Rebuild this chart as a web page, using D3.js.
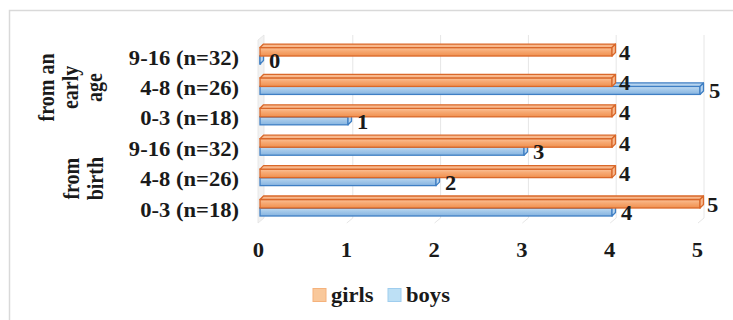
<!DOCTYPE html>
<html><head><meta charset="utf-8">
<script src="https://cdn.jsdelivr.net/npm/d3@7"></script>
<style>
html,body{margin:0;padding:0;background:#fff;}
svg{display:block;}
text{font-family:"Liberation Serif","Times New Roman",serif;font-weight:bold;fill:#1a1a1a;}
</style></head>
<body>
<svg id="c" width="733" height="320"></svg>
<script>
const categories = ["9-16 (n=32)","4-8 (n=26)","0-3 (n=18)","9-16 (n=32)","4-8 (n=26)","0-3 (n=18)"];
const groups = [["from an","early","age"],["from","birth"]];
const girls = [4,4,4,4,4,5];
const boys  = [0,5,1,3,2,4];
const seriesNames = ["girls","boys"];
const ticks = [0,1,2,3,4,5];

const FS = 20, SX = 1.13;
const svg = d3.select("#c");
const defs = svg.append("defs");
function grad(id, stops){
  const g = defs.append("linearGradient").attr("id",id).attr("x1",0).attr("y1",0).attr("x2",0).attr("y2",1);
  stops.forEach(s=>g.append("stop").attr("offset",s[0]).attr("stop-color",s[1]));
}
grad("gOr",[[0,"#fbc39b"],[0.4,"#f7aa74"],[1,"#f0904f"]]);
grad("gBl",[[0,"#c3dcf2"],[0.4,"#a5c9ea"],[1,"#86b4e0"]]);

// frame
svg.append("rect").attr("x",9.5).attr("y",10.5).attr("width",740).attr("height",330)
  .attr("fill","none").attr("stroke","#d9d9d9").attr("stroke-width",1.5);

const x = d3.scaleLinear().domain([0,5]).range([260,700]);
const xa = d3.scaleLinear().domain([0,5]).range([258,697]);
const y = d3.scaleBand().domain(d3.range(categories.length)).range([33.7,226.4]).paddingInner(0.34).paddingOuter(0.34);
const DX=6, DY=5, gTop=35, gBot=218;

function stext(g, tx, ty, txt, anchor, extra){
  return g.append("text").attr("transform",`translate(${tx},${ty}) scale(${SX},1)` + (extra||""))
    .attr("text-anchor",anchor||"start").attr("font-size",FS).text(txt);
}

// left wall
svg.append("polygon").attr("points",[[258,223],[258,40],[264,gTop],[264,gBot]].join(" "))
  .attr("fill","#f2f2f2").attr("stroke","#e3e3e3").attr("stroke-width",0.8);
// gridlines (back wall) with floor diagonal
const grid = svg.append("g");
ticks.slice(1).forEach(t=>{
  const xf = xa(t);
  grid.append("path").attr("d",`M${xf+DX+1},${gTop}L${xf+DX+1},${gBot}L${xf+1},${gBot+DY}`)
    .attr("fill","none").attr("stroke","#e6e6e6").attr("stroke-width",1);
});

// axis tick labels
const ax = svg.append("g").attr("transform","translate(0,257)")
  .call(d3.axisBottom(xa).tickValues(ticks).tickFormat(d3.format("d")).tickSize(0).tickPadding(0));
ax.select(".domain").remove();
ax.selectAll("text").attr("font-size",FS).attr("font-family","Liberation Serif").attr("font-weight","bold")
  .attr("fill","#1a1a1a").attr("dy",0).attr("y",0).attr("transform",`scale(${SX},1)`);

// bars
function bar(g, v, yt, h, fill, stroke, cap){
  const x0 = x(0), x1 = x(v), d = 3.5;
  g.append("rect").attr("x",x0).attr("y",yt+d).attr("width",Math.max(x1-x0,0.5)).attr("height",h-d)
    .attr("fill",fill).attr("stroke",stroke).attr("stroke-width",1.3);
  g.append("polygon").attr("points",[[x0,yt+d],[x0+d,yt],[x1+d,yt],[x1,yt+d]].join(" "))
    .attr("fill",cap).attr("stroke",stroke).attr("stroke-width",1.3).attr("stroke-linejoin","round");
  g.append("polygon").attr("points",[[x1,yt+d],[x1+d,yt],[x1+d,yt+h-d],[x1,yt+h]].join(" "))
    .attr("fill",cap).attr("stroke",stroke).attr("stroke-width",1.3).attr("stroke-linejoin","round");
}
const bars = svg.append("g");
categories.forEach((c,i)=>{
  const yb = y(i);
  bar(bars, boys[i], yb+8.5, 11.5, "url(#gBl)", "#3f7fc4", "#b7d4ef");
  bar(bars, girls[i], yb, 12, "url(#gOr)", "#d9682a", "#f8b88c");
});
// data labels
const lab = svg.append("g");
categories.forEach((c,i)=>{
  const yb = y(i);
  stext(lab, x(girls[i])+7, yb+15.5, girls[i]);
  stext(lab, x(boys[i])+9, yb+24, boys[i]);
});

// category labels
const cl = svg.append("g");
categories.forEach((c,i)=>{
  stext(cl, 239, y(i)+y.bandwidth()/2+10.5, c, "end");
});

// group labels (rotated)
const gl = svg.append("g");
const gCenters = [(y(0)+y(2)+y.bandwidth())/2, (y(3)+y(5)+y.bandwidth())/2];
const lineX = [[54,78,102],[79,103]];
groups.forEach((lines,gi)=>{
  lines.forEach((t,li)=>{
    stext(gl, lineX[gi][li], gCenters[gi]+3, t, "middle", " rotate(-90)");
  });
});

// legend
const lg = svg.append("g");
const legX = [313,388];
const legFill = ["#f9c89b","#bde0f5"], legStroke=["#f5b27c","#9fcdee"];
seriesNames.forEach((s,i)=>{
  lg.append("rect").attr("x",legX[i]).attr("y",288.5).attr("width",13).attr("height",13)
    .attr("fill",legFill[i]).attr("stroke",legStroke[i]).attr("stroke-width",1);
  stext(lg, legX[i]+18, 302, s);
});
</script>
</body></html>
